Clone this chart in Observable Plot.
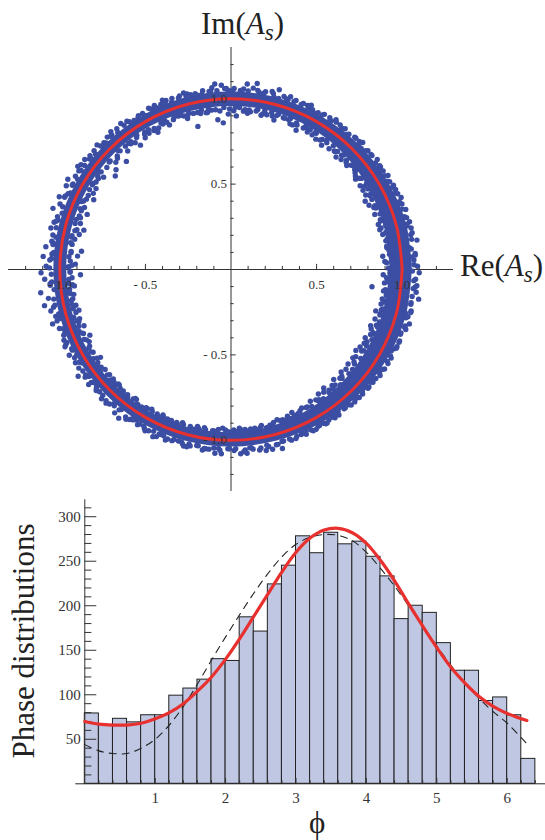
<!DOCTYPE html>
<html>
<head>
<meta charset="utf-8">
<script src="https://cdn.jsdelivr.net/npm/d3@7"></script>
<script src="https://cdn.jsdelivr.net/npm/@observablehq/plot@0.6"></script>
<style>
html,body{margin:0;padding:0;background:#fff;}
#page{position:relative;width:545px;height:840px;overflow:hidden;font-family:"Liberation Serif",serif;color:#222;}
#ring,#hist{position:absolute;left:0;}
#ring{top:0;} #hist{top:490px;}
.lab{position:absolute;font-size:31px;line-height:1;white-space:nowrap;}
.lab sub{font-size:23px;line-height:0;vertical-align:-6px;font-style:italic;}
</style>
</head>
<body>
<div id="page">
<div id="ring"></div>
<div id="hist"></div>
<div class="lab" style="left:201px;top:8px;">Im(<i>A</i><sub>s</sub>)</div>
<div class="lab" style="left:460px;top:250px;">Re(<i>A</i><sub>s</sub>)</div>
<div class="lab" id="ylab" style="left:23px;top:641px;transform:translate(-50%,-50%) rotate(-90deg);">Phase distributions</div>
<div class="lab" style="left:309px;top:807px;font-size:31px;">ϕ</div>
</div>
<script>
// Scatter samples: angle in degrees, radius
const ringSamples = [
1,1.09, 3,.90, 5,1.08, 7,.93, 9,1.10, 2,1.04, 4,1.06, 6,.96, 8,.92, 1,.95, 9,.95, 3,1.07, 7,1.05, 5,.89,
11,1.07, 13,.91, 15,1.08, 17,.90, 19,1.08, 12,.94, 14,1.06, 16,.94, 18,.92, 11,.93, 19,1.04, 13,1.08, 17,1.06, 15,.90,
21,.90, 23,1.08, 25,.89, 27,1.06, 29,.90, 22,1.06, 24,.92, 26,1.07, 28,.92, 21,1.07, 29,1.06, 23,.92, 27,.88, 25,1.06,
31,1.07, 33,.90, 35,1.06, 37,.91, 39,1.06, 32,.92, 34,1.05, 36,.90, 38,.92, 31,.90, 39,.93, 33,1.06, 37,1.07, 35,.93,
41,1.06, 43,.92, 45,1.06, 47,.90, 49,1.05, 42,.91, 44,1.07, 46,.93, 48,.93, 41,.93, 49,.92, 43,1.04, 47,1.06, 45,.91,
51,.91, 53,1.06, 55,.93, 57,1.06, 59,.92, 52,1.05, 54,.90, 56,1.05, 58,.94, 51,1.06, 59,1.06, 53,.93, 57,.91, 55,1.07,
61,1.05, 63,.93, 65,1.06, 67,.92, 69,1.06, 62,.94, 64,1.07, 66,.94, 68,.92, 61,.92, 69,.94, 63,1.05, 67,1.05, 65,.90,
71,.94, 73,1.06, 75,.93, 77,1.07, 79,.92, 72,1.05, 74,.91, 76,1.04, 78,.95, 71,1.07, 79,1.06, 73,.95, 77,.93, 75,1.09,
81,1.05, 83,.93, 85,1.09, 87,.95, 89,1.06, 82,1.10, 84,.92, 86,1.06, 88,.90, 81,.94, 89,.93, 83,1.07, 87,1.05, 85,.94,
91,.91, 93,1.08, 95,.88, 97,1.05, 99,.93, 92,1.06, 94,.93, 96,1.07, 98,.95, 91,1.05, 99,1.06, 93,.86, 97,.94, 95,1.09,
101,1.04, 103,.86, 105,1.07, 107,.94, 109,1.06, 102,.94, 104,1.06, 106,.92, 108,.95, 101,.93, 109,.95, 103,1.05, 107,1.05, 105,.95,
111,.94, 113,1.05, 115,.94, 117,1.06, 119,.93, 112,1.07, 114,.96, 116,1.04, 118,.91, 111,1.06, 119,1.03, 113,.92, 117,.93, 115,1.06,
121,1.05, 123,.92, 125,1.06, 127,.93, 129,1.06, 122,.95, 124,1.03, 126,.90, 128,.95, 121,.93, 129,.95, 123,1.04, 127,1.07, 125,.96,
131,.92, 133,1.06, 135,.94, 137,1.07, 139,.89, 132,1.05, 134,.88, 136,1.04, 138,.95, 131,1.07, 139,1.06, 133,.95, 137,.92, 135,1.05,
141,.87, 143,1.07, 145,.95, 147,1.06, 149,.92, 142,1.05, 144,.92, 146,1.08, 148,.95, 141,1.06, 149,1.06, 143,.95, 147,.94, 145,1.07,
151,.92, 153,1.08, 155,.95, 157,1.09, 159,.90, 152,1.05, 154,.94, 156,1.06, 158,.95, 151,1.09, 159,1.07, 153,.90, 157,.93, 155,1.05,
161,1.10, 163,.92, 165,1.07, 167,.91, 169,1.06, 162,.95, 164,1.05, 166,.94, 168,.95, 161,.93, 169,.93, 163,1.06, 167,1.08, 165,.89,
171,.94, 173,1.09, 175,.90, 177,1.06, 179,.95, 172,1.05, 174,.94, 176,1.10, 178,.91, 171,1.06, 179,1.08, 173,.88, 177,.94, 175,1.05,
181,1.11, 183,.93, 185,1.06, 187,.95, 189,1.08, 182,.88, 184,1.05, 186,.92, 188,.96, 181,.94, 189,.93, 183,1.09, 187,1.12, 185,.95,
191,1.11, 193,.93, 195,1.06, 197,1.09, 199,.94, 192,1.06, 194,.95, 196,1.04, 198,.93, 191,.95, 199,1.06, 193,1.08, 197,.96, 195,.92,
201,1.04, 203,.95, 205,1.07, 207,.93, 209,1.03, 202,.96, 204,1.05, 206,.94, 208,1.07, 201,.92, 209,.95, 203,1.06, 207,1.04, 205,.91,
211,1.06, 213,.96, 215,1.09, 217,.95, 219,1.05, 212,1.03, 214,.92, 216,1.05, 218,.97, 211,.94, 219,1.07, 213,1.06, 217,1.04, 215,.95,
221,.94, 223,1.05, 225,1.07, 227,.95, 229,1.04, 222,1.06, 224,.95, 226,.94, 228,1.06, 221,1.04, 229,.96, 223,.94, 227,1.07, 225,.96,
231,1.08, 233,.95, 235,1.07, 237,.96, 239,1.06, 232,1.04, 234,.94, 236,1.06, 238,1.04, 231,.96, 239,.95, 233,1.09, 237,1.05, 235,.96,
241,.95, 243,1.06, 245,.94, 247,1.05, 249,.96, 242,1.07, 244,.96, 246,1.07, 248,1.05, 241,1.05, 249,1.07, 243,.95, 247,.95, 245,1.08,
251,1.06, 253,.95, 255,1.07, 257,.96, 259,1.05, 252,.97, 254,1.05, 256,1.07, 258,.94, 251,.96, 259,.96, 253,1.05, 257,1.06, 255,.97,
261,.95, 263,1.06, 265,.96, 267,1.08, 269,1.05, 262,1.06, 264,.95, 266,1.05, 268,.94, 261,1.07, 269,.95, 263,.97, 267,.93, 265,1.08,
271,1.06, 273,.93, 275,1.08, 277,.94, 279,1.07, 272,.95, 274,1.07, 276,1.05, 278,.96, 271,.94, 279,.95, 273,1.08, 277,1.06, 275,.94,
281,.93, 283,1.08, 285,1.06, 287,.92, 289,1.05, 282,1.06, 284,.94, 286,1.09, 288,.93, 281,1.08, 289,.93, 283,.95, 287,1.05, 285,.94,
291,1.06, 293,.91, 295,1.04, 297,.91, 299,1.05, 292,.94, 294,1.05, 296,.92, 298,1.06, 291,.92, 299,.92, 293,1.05, 297,1.06, 295,.93,
301,.90, 303,1.05, 305,.89, 307,1.04, 309,.91, 302,1.06, 304,.92, 306,1.05, 308,.88, 301,1.05, 309,1.05, 303,.91, 307,.90, 305,1.06,
311,1.05, 313,.88, 315,1.06, 317,.88, 319,1.06, 312,.91, 314,1.05, 316,.90, 318,1.04, 311,.90, 319,.89, 313,1.06, 317,1.05, 315,.90,
321,.88, 323,1.06, 325,.89, 327,1.07, 329,.88, 322,1.05, 324,.88, 326,1.04, 328,.90, 321,1.05, 329,1.07, 323,.90, 327,.87, 325,1.06,
331,1.07, 333,.88, 335,1.07, 337,.89, 339,1.06, 332,.90, 334,1.06, 336,.91, 338,.88, 331,.89, 339,.91, 333,1.05, 337,1.07, 335,.90,
341,.89, 343,1.09, 345,.91, 347,1.08, 349,.90, 342,1.07, 344,.88, 346,1.05, 348,.92, 341,1.08, 349,1.07, 343,.91, 347,.90, 345,1.07,
351,1.11, 353,.83, 355,1.09, 357,.91, 359,1.10, 352,.90, 354,1.07, 356,.92, 358,.89, 351,.92, 359,.93, 353,1.09, 357,1.08, 355,.90
];
// Dots along the two rims of the band, read sector by sector
const ringRim = [
0.5,.92, 2.5,.91, 5.5,.93, 8.5,.92, 1.5,1.07, 4.5,1.08, 6.5,1.06, 9.5,1.07,
10.5,.92, 13.5,.93, 15.5,.91, 18.5,.92, 11.5,1.08, 14.5,1.06, 16.5,1.07, 19.5,1.06,
20.5,.93, 23.5,.91, 26.5,.92, 28.5,.93, 21.5,1.06, 24.5,1.07, 27.5,1.07, 29.5,1.05,
30.5,.93, 32.5,.94, 35.5,.92, 38.5,.94, 31.5,1.05, 34.5,1.06, 36.5,1.05, 39.5,1.06,
40.5,.94, 43.5,.93, 45.5,.94, 48.5,.92, 41.5,1.05, 44.5,1.05, 46.5,1.06, 49.5,1.04,
50.5,.94, 53.5,.94, 55.5,.92, 58.5,.94, 51.5,1.05, 54.5,1.06, 56.5,1.04, 59.5,1.05,
60.5,.94, 62.5,.95, 65.5,.93, 68.5,.95, 61.5,1.04, 64.5,1.05, 66.5,1.06, 69.5,1.05,
70.5,.94, 73.5,.94, 75.5,.95, 78.5,.93, 71.5,1.05, 74.5,1.04, 76.5,1.06, 79.5,1.05,
80.5,.95, 83.5,.94, 85.5,.93, 88.5,.95, 81.5,1.06, 84.5,1.05, 86.5,1.04, 89.5,1.05,
90.5,.94, 92.5,.95, 95.5,.94, 98.5,.93, 91.5,1.06, 94.5,1.05, 96.5,1.05, 99.5,1.04,
100.5,.95, 103.5,.94, 105.5,.94, 108.5,.95, 101.5,1.05, 104.5,1.05, 106.5,1.06, 109.5,1.04,
110.5,.95, 113.5,.94, 115.5,.95, 118.5,.94, 111.5,1.05, 114.5,1.04, 116.5,1.05, 119.5,1.05,
120.5,.95, 122.5,.94, 125.5,.95, 128.5,.94, 121.5,1.04, 124.5,1.05, 126.5,1.05, 129.5,1.04,
130.5,.95, 133.5,.96, 135.5,.93, 138.5,.95, 131.5,1.05, 134.5,1.04, 136.5,1.05, 139.5,1.04,
140.5,.94, 143.5,.96, 145.5,.94, 148.5,.95, 141.5,1.04, 144.5,1.05, 146.5,1.05, 149.5,1.04,
150.5,.95, 152.5,.94, 155.5,.96, 158.5,.94, 151.5,1.05, 154.5,1.04, 156.5,1.06, 159.5,1.05,
160.5,.94, 163.5,.95, 165.5,.93, 168.5,.95, 161.5,1.04, 164.5,1.06, 166.5,1.05, 169.5,1.04,
170.5,.95, 173.5,.94, 175.5,.95, 178.5,.93, 171.5,1.05, 174.5,1.04, 176.5,1.05, 179.5,1.06,
180.5,.94, 183.5,.95, 185.5,.93, 188.5,.95, 181.5,1.05, 184.5,1.06, 186.5,1.04, 189.5,1.05,
190.5,.94, 192.5,.95, 195.5,.94, 198.5,.95, 191.5,1.05, 194.5,1.04, 196.5,1.06, 199.5,1.04,
200.5,.95, 203.5,.94, 205.5,.95, 208.5,.94, 201.5,1.05, 204.5,1.06, 206.5,1.04, 209.5,1.05,
210.5,.95, 213.5,.94, 215.5,.96, 218.5,.94, 211.5,1.04, 214.5,1.05, 216.5,1.06, 219.5,1.04,
220.5,.95, 222.5,.96, 225.5,.94, 228.5,.95, 221.5,1.05, 224.5,1.05, 226.5,1.06, 229.5,1.05,
230.5,.95, 233.5,.94, 235.5,.96, 238.5,.95, 231.5,1.05, 234.5,1.06, 236.5,1.05, 239.5,1.05,
240.5,.94, 243.5,.96, 245.5,.95, 248.5,.95, 241.5,1.06, 244.5,1.05, 246.5,1.05, 249.5,1.06,
250.5,.95, 252.5,.94, 255.5,.95, 258.5,.95, 251.5,1.05, 254.5,1.06, 256.5,1.05, 259.5,1.05,
260.5,.94, 263.5,.95, 265.5,.94, 268.5,.95, 261.5,1.06, 264.5,1.05, 266.5,1.06, 269.5,1.05,
270.5,.95, 273.5,.94, 275.5,.95, 278.5,.94, 271.5,1.05, 274.5,1.06, 276.5,1.05, 279.5,1.06,
280.5,.94, 282.5,.95, 285.5,.93, 288.5,.94, 281.5,1.05, 284.5,1.06, 286.5,1.05, 289.5,1.06,
290.5,.94, 293.5,.93, 295.5,.94, 298.5,.92, 291.5,1.05, 294.5,1.06, 296.5,1.05, 299.5,1.05,
300.5,.93, 303.5,.92, 305.5,.93, 308.5,.92, 301.5,1.06, 304.5,1.05, 306.5,1.06, 309.5,1.05,
310.5,.92, 313.5,.93, 315.5,.91, 318.5,.92, 311.5,1.06, 314.5,1.05, 316.5,1.06, 319.5,1.06,
320.5,.92, 322.5,.91, 325.5,.92, 328.5,.91, 321.5,1.06, 324.5,1.07, 326.5,1.06, 329.5,1.06,
330.5,.91, 333.5,.92, 335.5,.91, 338.5,.92, 331.5,1.06, 334.5,1.07, 336.5,1.07, 339.5,1.06,
340.5,.92, 343.5,.91, 345.5,.92, 348.5,.91, 341.5,1.07, 344.5,1.06, 346.5,1.08, 349.5,1.07,
350.5,.92, 352.5,.91, 355.5,.92, 358.5,.93, 351.5,1.07, 354.5,1.08, 356.5,1.07, 359.5,1.06
];
// Solid core of the ring where the dots merge
const coreAngles = [0,15,30,45,60,75,90,105,120,135,150,165,180,195,210,225,240,255,270,285,300,315,330,345,360];
const coreInner = [.93,.93,.935,.945,.95,.955,.955,.955,.96,.96,.96,.96,.96,.96,.96,.96,.96,.96,.955,.95,.94,.93,.925,.925,.93];
const coreOuter = [1.06,1.06,1.05,1.045,1.04,1.04,1.04,1.04,1.035,1.035,1.035,1.035,1.035,1.035,1.035,1.035,1.04,1.04,1.04,1.04,1.045,1.05,1.055,1.06,1.06];
const circleAngles = [0,15,30,45,60,75,90,105,120,135,150,165,180,195,210,225,240,255,270,285,300,315,330,345,360];
const ringMajor = [-1,-0.5,0.5,1];
const ringMinor = [-1.2,-1.1,-.9,-.8,-.7,-.6,-.4,-.3,-.2,-.1,.1,.2,.3,.4,.6,.7,.8,.9,1.1,1.2];

const binStart = [0,.2,.4,.6,.8,1,1.2,1.4,1.6,1.8,2,2.2,2.4,2.6,2.8,3,3.2,3.4,3.6,3.8,4,4.2,4.4,4.6,4.8,5,5.2,5.4,5.6,5.8,6,6.2];
const counts = [79,66,73,69,77,77,99,107,117,140,138,187,171,224,245,278,259,282,269,272,255,233,185,200,192,158,127,127,93,97,77,28];
const redPhi = [0,.2,.4,.6,.8,1,1.2,1.4,1.6,1.8,2,2.2,2.4,2.6,2.8,3,3.2,3.4,3.6,3.8,4,4.2,4.4,4.6,4.8,5,5.2,5.4,5.6,5.8,6,6.28];
const redVal = [70,67,66,66,68,73,80,90,104,120,140,163,188,213,238,260,276,285,287,282,270,251,228,202,177,153,131,113,98,87,79,71];
const dashPhi = [0,.2,.4,.6,.8,1,1.2,1.4,1.6,1.8,2,2.2,2.4,2.6,2.8,3,3.2,3.4,3.6,3.8,4,4.2,4.4,4.6,4.8,5,5.2,5.4,5.6,5.8,6,6.28];
const dashVal = [44,37,34,34,40,50,66,87,112,139,165,190,214,236,255,269,277,280,279,273,260,242,222,200,177,155,133,113,96,81,68,45];
const histYMajor = [50,100,150,200,250,300];
const histYMinor = [10,20,30,40,60,70,80,90,110,120,130,140,160,170,180,190,210,220,230,240,260,270,280,290,310];
const histXMajor = [1,2,3,4,5,6];
const histXMinor = [.2,.4,.6,.8,1.2,1.4,1.6,1.8,2.2,2.4,2.6,2.8,3.2,3.4,3.6,3.8,4.2,4.4,4.6,4.8,5.2,5.4,5.6,5.8,6.2,6.4];

const rad = d => d * Math.PI / 180;
const dots = [];
for (const list of [ringSamples, ringRim])
  for (let i = 0; i < list.length; i += 2) dots.push({a: list[i], r: list[i+1]});
const core = coreAngles.map((a,i) => ({a, i: coreInner[i], o: coreOuter[i]}));
const BLUE = "#3b4ea3", RED = "#e8302f", INK = "#333";
const fmt = d => d < 0 ? "- " + Math.abs(d).toFixed(1) : d.toFixed(1);

const ring = Plot.plot({
  width: 545, height: 500, marginLeft: 8, marginRight: 92, marginTop: 47, marginBottom: 9,
  x: {domain: [-1.3, 1.3], axis: null},
  y: {domain: [-1.3, 1.3], axis: null},
  style: {background: "transparent", fontFamily: "Liberation Serif"},
  marks: [
    Plot.ruleY([0], {stroke: "#333", strokeWidth: 1}),
    Plot.ruleX([0], {stroke: "#333", strokeWidth: 1}),
    Plot.ruleX(ringMajor, {x: d => d, y1: 0, y2: 0.03, stroke: "#333"}),
    Plot.ruleX(ringMinor, {x: d => d, y1: 0, y2: 0.018, stroke: "#333"}),
    Plot.ruleY(ringMajor, {y: d => d, x1: 0, x2: 0.03, stroke: "#333"}),
    Plot.ruleY(ringMinor, {y: d => d, x1: 0, x2: 0.018, stroke: "#333"}),
    Plot.area(core, {
      x1: d => d.i * Math.cos(rad(d.a)), y1: d => d.i * Math.sin(rad(d.a)),
      x2: d => d.o * Math.cos(rad(d.a)), y2: d => d.o * Math.sin(rad(d.a)),
      fill: BLUE, curve: "catmull-rom"
    }),
    Plot.dot(dots, {x: d => d.r * Math.cos(rad(d.a)), y: d => d.r * Math.sin(rad(d.a)), r: 2.7, fill: BLUE}),
    Plot.line(circleAngles, {x: a => Math.cos(rad(a)), y: a => Math.sin(rad(a)), stroke: RED, strokeWidth: 3, curve: "catmull-rom"}),
    Plot.text(ringMajor, {x: d => d, y: 0, dy: 15, text: fmt, fontSize: 13, fill: INK}),
    Plot.text(ringMajor, {x: 0, y: d => d, dx: -4, textAnchor: "end", text: fmt, fontSize: 13, fill: INK})
  ]
});
document.getElementById("ring").append(ring);

const bars = binStart.map((s,i) => ({s, c: counts[i]}));
const red = redPhi.map((p,i) => ({p, v: redVal[i]}));
const dash = dashPhi.map((p,i) => ({p, v: dashVal[i]}));

const hist = Plot.plot({
  width: 545, height: 350, marginLeft: 75.3, marginRight: 0, marginTop: 9.3, marginBottom: 56.7,
  x: {domain: [-0.128, 6.544], axis: null},
  y: {domain: [0, 319], axis: null},
  style: {background: "transparent", fontFamily: "Liberation Serif"},
  marks: [
    Plot.rectY(bars, {x1: "s", x2: d => d.s + 0.2, y: "c", fill: "#bfc7e3", stroke: "#222", strokeWidth: 1, inset: 0}),
    Plot.ruleY([0], {stroke: "#222"}),
    Plot.ruleX([0], {stroke: "#333"}),
    Plot.ruleY(histYMajor, {y: d => d, x1: 0, x2: 0.17, stroke: "#333"}),
    Plot.ruleY(histYMinor, {y: d => d, x1: 0, x2: 0.1, stroke: "#333"}),
    Plot.ruleX(histXMajor, {x: d => d, y1: 0, y2: 6, stroke: "#333"}),
    Plot.ruleX(histXMinor, {x: d => d, y1: 0, y2: 3.5, stroke: "#333"}),
    Plot.line(dash, {x: "p", y: "v", stroke: "#222", strokeWidth: 1.1, strokeDasharray: "7,6", curve: "catmull-rom"}),
    Plot.line(red, {x: "p", y: "v", stroke: RED, strokeWidth: 3.2, curve: "catmull-rom"}),
    Plot.text(histXMajor, {x: d => d, y: 0, dy: 14, text: d => String(d), fontSize: 15, fill: INK}),
    Plot.text(histYMajor, {x: 0, y: d => d, dx: -4, textAnchor: "end", text: d => String(d), fontSize: 15, fill: INK})
  ]
});
document.getElementById("hist").append(hist);
</script>
</body>
</html>
